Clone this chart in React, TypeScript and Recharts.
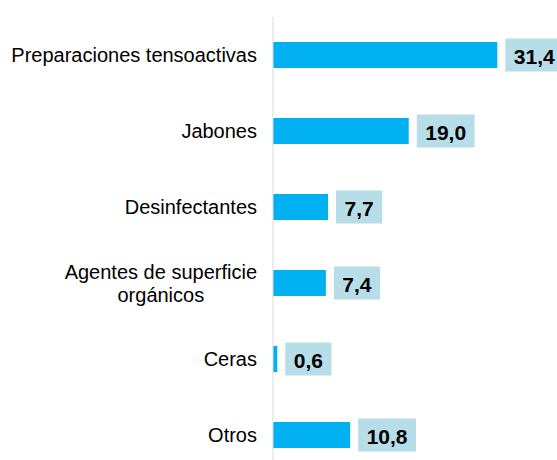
import React from "react";
import { BarChart, Bar, XAxis, YAxis, LabelList } from "recharts";

const categories = [
  "Preparaciones tensoactivas",
  "Jabones",
  "Desinfectantes",
  "Agentes de superficie\norgánicos",
  "Ceras",
  "Otros",
];
const values = [31.4, 19.0, 7.7, 7.4, 0.6, 10.8];

const data = categories.map((c, i) => ({ name: c, value: values[i] }));

const FONT = "'Liberation Sans', Arial, sans-serif";
const TICK_SIZE = 20;

let ctx: CanvasRenderingContext2D | null = null;
function measure(text: string, font: string): number {
  if (!ctx) {
    const c = document.createElement("canvas");
    ctx = c.getContext("2d");
  }
  if (!ctx) return text.length * 10;
  ctx.font = font;
  return ctx.measureText(text).width;
}

const fmt = (v: number) => v.toFixed(1).replace(".", ",");

const CategoryTick = (props: any) => {
  const { x, y, payload } = props;
  const lines = String(payload.value).split("\n");
  if (lines.length === 1) {
    return (
      <text x={x} y={y} textAnchor="end" dominantBaseline="central" fontSize={TICK_SIZE} fontFamily={FONT} fill="#000">
        {lines[0]}
      </text>
    );
  }
  const widths = lines.map((l) => measure(l, `${TICK_SIZE}px ${FONT}`));
  const maxW = Math.max(...widths);
  const cx = x - maxW / 2;
  const lh = 23;
  const start = y - ((lines.length - 1) * lh) / 2;
  return (
    <g>
      {lines.map((l, i) => (
        <text key={i} x={cx} y={start + i * lh} textAnchor="middle" dominantBaseline="central" fontSize={TICK_SIZE} fontFamily={FONT} fill="#000">
          {l}
        </text>
      ))}
    </g>
  );
};

const ValueLabel = (props: any) => {
  const { x, y, width, height, value } = props;
  const text = fmt(Number(value));
  const tw = measure(text, `bold 21px ${FONT}`);
  const pad = 8.5;
  const bw = tw + pad * 2;
  const bh = 33;
  const bx = Number(x) + Number(width) + 8;
  const cy = Number(y) + Number(height) / 2;
  return (
    <g>
      <rect x={bx} y={cy - bh / 2} width={bw} height={bh} fill="#B7DDE8" />
      <text x={bx + bw / 2} y={cy + 1} textAnchor="middle" dominantBaseline="central" fontSize={21} fontWeight="bold" fontFamily={FONT} fill="#000">
        {text}
      </text>
    </g>
  );
};

export default function App() {
  return (
    <div style={{ position: "fixed", left: 0, top: 0, width: 557, height: 460, overflow: "hidden", background: "#fff" }}>
      <BarChart
        width={557}
        height={480}
        data={data}
        layout="vertical"
        margin={{ top: 17, right: 34, bottom: 7, left: 0 }}
        barCategoryGap={0}
      >
        <XAxis type="number" domain={[0, 35]} hide />
        <YAxis
          type="category"
          dataKey="name"
          width={273}
          axisLine={{ stroke: "#D9D9D9", strokeWidth: 1 }}
          tickLine={false}
          tickSize={0}
          tickMargin={16}
          tick={<CategoryTick />}
          interval={0}
        />
        <Bar dataKey="value" fill="#00B0F0" barSize={26} isAnimationActive={false}>
          <LabelList dataKey="value" content={<ValueLabel />} />
        </Bar>
      </BarChart>
    </div>
  );
}
